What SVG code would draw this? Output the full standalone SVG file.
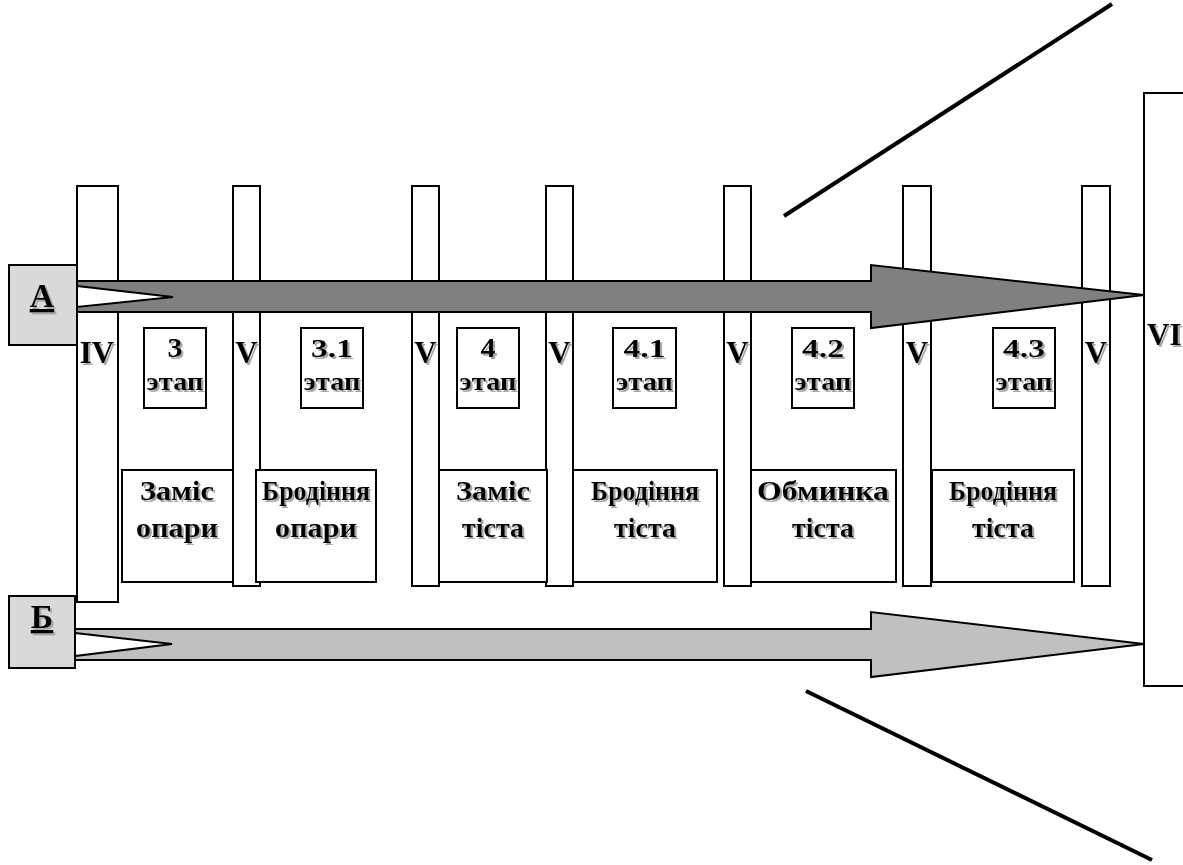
<svg xmlns="http://www.w3.org/2000/svg" width="1183" height="865" viewBox="0 0 1183 865">
<defs>
<filter id="sh" x="-10%" y="-10%" width="130%" height="130%">
<feOffset in="SourceAlpha" dx="2" dy="2" result="o"/>
<feFlood flood-color="#a8a8a8"/>
<feComposite in2="o" operator="in" result="s"/>
<feMerge><feMergeNode in="s"/><feMergeNode in="SourceGraphic"/></feMerge>
</filter>
<style>
.bar{fill:#fff;stroke:#000;stroke-width:2}
.box{fill:#fff;stroke:#000;stroke-width:2}
.lbl{fill:#d9d9d9;stroke:#000;stroke-width:2}
.t{font-family:"Liberation Serif","Times New Roman",serif;font-weight:bold;fill:#000;filter:url(#sh)}
.big{font-size:31px}
.ab{font-size:34px}
.mid{font-size:28px}
.st{font-size:26px}
.dg{font-size:27px}
.line{stroke:#000;stroke-width:4;fill:none}
</style>
</defs>
<rect width="1183" height="865" fill="#fff"/>
<g id="bars">
<g id="bar-IV"><rect class="bar" x="77" y="186" width="41" height="416"/></g>
<g id="bar-V1"><rect class="bar" x="233" y="186" width="27" height="400"/></g>
<g id="bar-V2"><rect class="bar" x="412" y="186" width="27" height="400"/></g>
<g id="bar-V3"><rect class="bar" x="546" y="186" width="27" height="400"/></g>
<g id="bar-V4"><rect class="bar" x="724" y="186" width="27" height="400"/></g>
<g id="bar-V5"><rect class="bar" x="903" y="186" width="28" height="400"/></g>
<g id="bar-V6"><rect class="bar" x="1082" y="186" width="28" height="400"/></g>
</g>
<g id="process">
<g id="p1"><rect class="box" x="122" y="470" width="111" height="112"/>
<text class="t mid" text-anchor="middle" x="177" y="500" textLength="74" lengthAdjust="spacingAndGlyphs">Заміс</text>
<text class="t mid" text-anchor="middle" x="177" y="537" textLength="82" lengthAdjust="spacingAndGlyphs">опари</text></g>
<g id="p2"><rect class="box" x="256" y="470" width="120" height="112"/>
<text class="t mid" text-anchor="middle" x="316" y="500" textLength="108" lengthAdjust="spacingAndGlyphs">Бродіння</text>
<text class="t mid" text-anchor="middle" x="316" y="537" textLength="82" lengthAdjust="spacingAndGlyphs">опари</text></g>
<g id="p3"><rect class="box" x="439" y="470" width="108" height="112"/>
<text class="t mid" text-anchor="middle" x="493" y="500" textLength="74" lengthAdjust="spacingAndGlyphs">Заміс</text>
<text class="t mid" text-anchor="middle" x="493" y="537" textLength="62" lengthAdjust="spacingAndGlyphs">тіста</text></g>
<g id="p4"><rect class="box" x="573" y="470" width="144" height="112"/>
<text class="t mid" text-anchor="middle" x="645" y="500" textLength="108" lengthAdjust="spacingAndGlyphs">Бродіння</text>
<text class="t mid" text-anchor="middle" x="645" y="537" textLength="62" lengthAdjust="spacingAndGlyphs">тіста</text></g>
<g id="p5"><rect class="box" x="751" y="470" width="145" height="112"/>
<text class="t mid" text-anchor="middle" x="823" y="500" textLength="132" lengthAdjust="spacingAndGlyphs">Обминка</text>
<text class="t mid" text-anchor="middle" x="823" y="537" textLength="62" lengthAdjust="spacingAndGlyphs">тіста</text></g>
<g id="p6"><rect class="box" x="932" y="470" width="142" height="112"/>
<text class="t mid" text-anchor="middle" x="1003" y="500" textLength="108" lengthAdjust="spacingAndGlyphs">Бродіння</text>
<text class="t mid" text-anchor="middle" x="1003" y="537" textLength="62" lengthAdjust="spacingAndGlyphs">тіста</text></g>
</g>
<g id="stages">
<g id="s3"><rect class="box" x="144" y="328" width="62" height="80"/>
<text class="t dg" text-anchor="middle" x="175" y="357" textLength="15" lengthAdjust="spacingAndGlyphs">3</text>
<text class="t st" text-anchor="middle" x="175" y="390" textLength="57" lengthAdjust="spacingAndGlyphs">этап</text></g>
<g id="s31"><rect class="box" x="301" y="328" width="62" height="80"/>
<text class="t st" text-anchor="middle" x="332" y="357" textLength="42" lengthAdjust="spacingAndGlyphs">3.1</text>
<text class="t st" text-anchor="middle" x="332" y="390" textLength="57" lengthAdjust="spacingAndGlyphs">этап</text></g>
<g id="s4"><rect class="box" x="457" y="328" width="62" height="80"/>
<text class="t dg" text-anchor="middle" x="488" y="357" textLength="15" lengthAdjust="spacingAndGlyphs">4</text>
<text class="t st" text-anchor="middle" x="488" y="390" textLength="57" lengthAdjust="spacingAndGlyphs">этап</text></g>
<g id="s41"><rect class="box" x="613" y="328" width="63" height="80"/>
<text class="t st" text-anchor="middle" x="644.5" y="357" textLength="42" lengthAdjust="spacingAndGlyphs">4.1</text>
<text class="t st" text-anchor="middle" x="644.5" y="390" textLength="57" lengthAdjust="spacingAndGlyphs">этап</text></g>
<g id="s42"><rect class="box" x="792" y="328" width="62" height="80"/>
<text class="t st" text-anchor="middle" x="823" y="357" textLength="42" lengthAdjust="spacingAndGlyphs">4.2</text>
<text class="t st" text-anchor="middle" x="823" y="390" textLength="57" lengthAdjust="spacingAndGlyphs">этап</text></g>
<g id="s43"><rect class="box" x="993" y="328" width="62" height="80"/>
<text class="t st" text-anchor="middle" x="1024" y="357" textLength="42" lengthAdjust="spacingAndGlyphs">4.3</text>
<text class="t st" text-anchor="middle" x="1024" y="390" textLength="57" lengthAdjust="spacingAndGlyphs">этап</text></g>
</g>
<g id="vi-box"><rect class="box" x="1144" y="93" width="60" height="593"/>
<text class="t big" x="1147" y="345">VI</text></g>
<g id="connectors">
<g id="arrow-A">
<polygon points="77,281 871,281 871,265 1144,295 871,328 871,312 77,312" fill="#808080" stroke="#000" stroke-width="2" stroke-linejoin="miter"/>
<polygon points="77,286 173,297 77,307" fill="#fff" stroke="#000" stroke-width="2"/>
</g>
<g id="arrow-B">
<polygon points="75,629 871,629 871,612 1144,644 871,677 871,660 75,660" fill="#c0c0c0" stroke="#000" stroke-width="2"/>
<polygon points="75,633 172,644 75,656" fill="#fff" stroke="#000" stroke-width="2"/>
</g>
<line class="line" x1="784" y1="216" x2="1112" y2="4"/>
<line class="line" x1="806" y1="691" x2="1152" y2="860"/>
</g>
<g id="roman">
<text class="t big" text-anchor="middle" x="97" y="363">IV</text>
<text class="t big" text-anchor="middle" x="246.5" y="363">V</text>
<text class="t big" text-anchor="middle" x="425.5" y="363">V</text>
<text class="t big" text-anchor="middle" x="559.5" y="363">V</text>
<text class="t big" text-anchor="middle" x="737.5" y="363">V</text>
<text class="t big" text-anchor="middle" x="917" y="363">V</text>
<text class="t big" text-anchor="middle" x="1096" y="363">V</text>
</g>
<g id="box-A"><rect class="lbl" x="9" y="265" width="68" height="80"/>
<text class="t ab" text-anchor="middle" x="42" y="307" text-decoration="underline">А</text></g>
<g id="box-B"><rect class="lbl" x="9" y="596" width="66" height="72"/>
<text class="t ab" text-anchor="middle" x="42" y="628" text-decoration="underline">Б</text></g>
</svg>
